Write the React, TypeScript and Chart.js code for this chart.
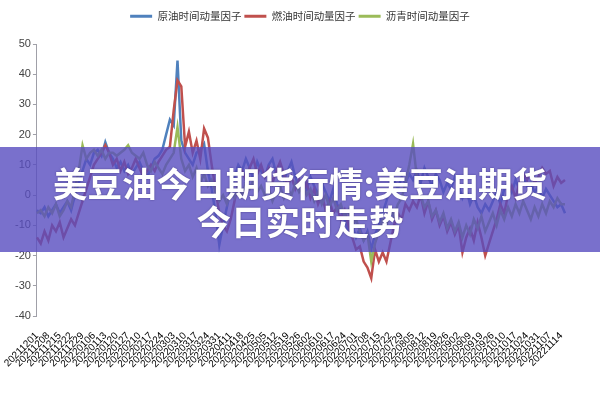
import React, { useEffect, useRef } from 'react';
import { Chart, registerables } from 'chart.js';

Chart.register(...registerables);

const seriesNames = ['原油时间动量因子', '燃油时间动量因子', '沥青时间动量因子'];
const seriesColors = ['#4F81BD', '#C0504D', '#9BBB59'];

const tickLabels = [
  '20211201', '20211208', '20211215', '20211222', '20211229', '20220106', '20220113', '20220120',
  '20220127', '20220210', '20220217', '20220224', '20220303', '20220310', '20220317', '20220324',
  '20220331', '20220411', '20220418', '20220425', '20220505', '20220512', '20220519', '20220526',
  '20220602', '20220610', '20220617', '20220624', '20220701', '20220708', '20220715', '20220722',
  '20220729', '20220805', '20220812', '20220819', '20220826', '20220902', '20220909', '20220919',
  '20220926', '20221010', '20221017', '20221024', '20221031', '20221107', '20221114',
];

const crudeOil = [
  -5, -6, -4, -7, -5, -3, -6, -4, -2, -5,
  0, 4, 8, 12, 10, 14, 15, 13, 17.5, 14,
  12, 9, 11, 8, 10, 7, 9, 11, 8, 6,
  9, 12, 13, 15, 20, 25, 23, 44.5, 18, 14,
  12, 10, 14, 15, 17, 8, 2, -6, -16.5, -10,
  -4, 2, 6, 10, 8, 12, 9, 5, 11, 8,
  6, 10, 12, 7, 9, 5, 8, 11, 6, 3,
  5, 2, 6, 3, 0, 4, 1, -2, 2, -3,
  -5, -8, -12, -10, -14, -11, -15, -12, -18, -13,
  -10, -6, -2, 3, 5, 2, 6, 4, 7, 5,
  8, 4, 9, 6, 3, 7, 5, 1, 4, 2,
  6, 3, -1, 2, -3, 0, -4, -6, -3, -5,
  -2, 1, -3, 2, 4, 1, 5, 2, 6, 3,
  4, 1, 3, -1, 2, 0, -2, -4, -3, -6,
];

const fuelOil = [
  -14, -16, -12, -15, -10, -12, -9, -14, -11, -8,
  -10, -6, -2, 2, 6, 10, 12, 14, 16.5, 14,
  10, 12, 8, 11, 7, 9, 12, 9, 6, 8,
  10, 8, 11, 13, 15, 16, 28, 38, 36, 16,
  21, 14, 18, 12, 22, 19, 10, 2, -6, -10,
  -12, -8, -2, 4, 8, 5, 9, 12, 7, 10,
  6, 9, 4, 8, 11, 7, 3, 6, 2, 5,
  1, 4, -1, 2, -3, 0, -5, -2, -6, -4,
  -8, -5, -10, -14, -18, -17, -22, -24, -27.5, -18,
  -22, -19, -22, -16, -10, -6, -8, -3, -5, -2,
  -4, 0, -6, -2, -8, -5, -10, -7, -12, -9,
  -13, -10, -19, -14, -11, -15, -9, -14, -20, -16,
  -12, -8, -3, -6, 0, 3, -1, 4, 7, 5,
  8, 4, 6, 9, 7, 8, 3, 6, 4, 5,
];

const asphalt = [
  -6, -5, -7, -4, -6, -3, -7, -5, -2, -4,
  2, 8, 16.5, 12, 14, 15, 13, 15, 12, 14,
  14, 13, 14, 15, 16.5, 14, 13, 12, 14, 10,
  8, 11, 9, 7, 10, 12, 14, 22.5, 12, 8,
  10, 6, 9, 4, 7, 3, 5, 1, -2, 0,
  -3, 1, -1, 3, 0, 4, 2, 5, 1, 3,
  0, 2, -2, 1, 3, -1, 2, 0, 4, 1,
  3, 0, 2, -2, 1, -3, 0, -4, -1, -5,
  -3, -7, -5, -10, -8, -12, -15, -13, -22, -16,
  -12, -8, -10, -5, -7, -3, -1, 4, 10, 17,
  6, 0, -4, -2, -7, -5, -9, -6, -11, -8,
  -12, -9, -14, -10, -13, -8, -11, -7, -12, -9,
  -6, -10, -5, -8, -4, -7, -3, -6, -2, -5,
  -8, -4, -7, -3, -6, -2, -4, -1, -3, -3,
];

const POINTS_PER_LABEL = 3;
const Y_MIN = -40;
const Y_MAX = 50;
const Y_STEP = 10;

const bannerLines = ['美豆油今日期货行情:美豆油期货', '今日实时走势'];

export default function App() {
  const canvasRef = useRef<HTMLCanvasElement | null>(null);

  useEffect(() => {
    if (!canvasRef.current) return;
    const categories = crudeOil.map((_, i) =>
      i % POINTS_PER_LABEL === 0 ? tickLabels[i / POINTS_PER_LABEL] ?? '' : ''
    );
    const values = [crudeOil, fuelOil, asphalt];
    const legendSpacer = {
      id: 'legendSpacer',
      beforeInit(chart: any) {
        const legend = chart.legend;
        if (!legend) return;
        const orig = legend.fit;
        legend.fit = function () {
          orig.call(this);
          this.height = 36;
        };
      },
    };
    const chart = new Chart(canvasRef.current, {
      type: 'line',
      data: {
        labels: categories,
        datasets: values.map((v, k) => ({
          label: seriesNames[k],
          data: v,
          borderColor: seriesColors[k],
          backgroundColor: seriesColors[k],
          borderWidth: 2.5,
          pointRadius: 0,
          tension: 0,
          order: 2 - k,
        })),
      },
      options: {
        animation: false,
        responsive: false,
        layout: { padding: { top: 8, left: 0, right: 0, bottom: 0 } },
        plugins: {
          tooltip: { enabled: false },
          legend: {
            position: 'top',
            labels: {
              boxWidth: 22,
              boxHeight: 3,
              padding: 3,
              color: '#333',
              font: { size: 10.5, family: "'Noto Sans CJK SC', sans-serif" },
              sort: (a: any, b: any) => a.datasetIndex - b.datasetIndex,
              generateLabels: (c: any) =>
                (Chart.defaults.plugins.legend.labels.generateLabels as any)(c).map((l: any) => ({
                  ...l,
                  lineWidth: 0,
                })),
            },
          },
        },
        scales: {
          x: {
            grid: { display: false },
            border: { display: false },
            ticks: {
              autoSkip: false,
              minRotation: 45,
              maxRotation: 45,
              padding: 6,
              color: '#000',
              font: { size: 10, family: "'Liberation Sans', sans-serif" },
            },
            afterFit: (s: any) => {
              s.height = 84;
            },
          },
          y: {
            min: Y_MIN,
            max: Y_MAX,
            ticks: {
              stepSize: Y_STEP,
              padding: 2,
              color: '#444',
              font: { size: 11, family: "'Liberation Sans', sans-serif" },
            },
            grid: { display: true, drawOnChartArea: false, tickLength: 4, color: '#a0a0a8' },
            border: { display: true, color: '#a0a0a8', width: 1 },
            afterFit: (s: any) => {
              s.width = 33;
            },
          },
          yRight: {
            position: 'right',
            display: true,
            grid: { display: false },
            border: { display: false },
            ticks: { display: false },
            afterFit: (s: any) => {
              s.width = 35;
            },
          },
        },
      },
      plugins: [legendSpacer],
    });
    return () => chart.destroy();
  }, []);

  return (
    <div style={{ position: 'absolute', left: 0, top: 0, width: 600, height: 400, background: '#fff' }}>
      <canvas ref={canvasRef} width={600} height={400} style={{ display: 'block' }} />
      <div
        style={{
          position: 'absolute',
          left: 0,
          top: 147,
          width: 600,
          height: 105,
          background: 'rgba(88, 76, 191, 0.8)',
        }}
      >
        {bannerLines.map((t, i) => (
          <div
            key={i}
            style={{
              position: 'absolute',
              left: 0,
              width: 600,
              top: 16 + i * 38,
              height: 38,
              lineHeight: '38px',
              textAlign: 'center',
              color: '#fff',
              fontFamily: "'Noto Sans CJK SC', sans-serif",
              fontWeight: 700,
              fontSize: 34.5,
              whiteSpace: 'nowrap',
              textShadow: '0 0 2px rgba(40,30,90,0.6)',
            }}
          >
            {t}
          </div>
        ))}
      </div>
    </div>
  );
}
